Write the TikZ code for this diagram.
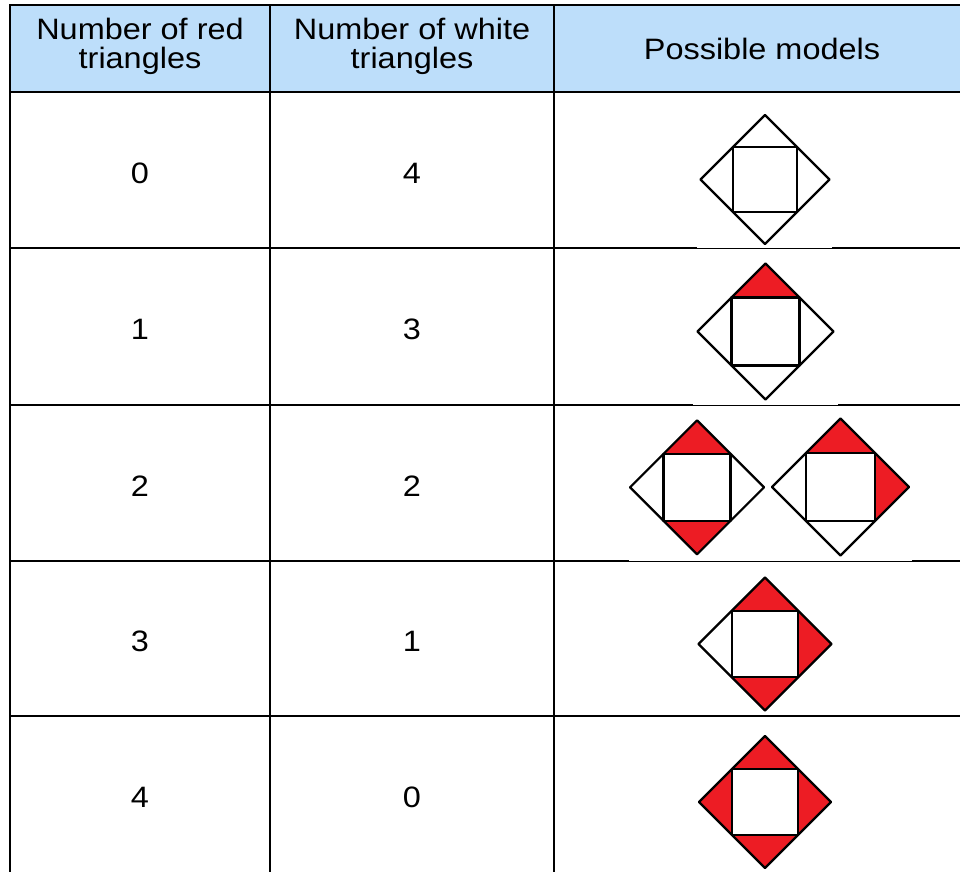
\documentclass[tikz,border=0pt]{standalone}
\usepackage{fontspec}
\setmainfont{Liberation Sans}[FakeStretch=1.1]
\definecolor{hdr}{RGB}{189,222,250}
\definecolor{tri}{RGB}{237,28,36}
% #1 cx, #2 cy, #3 r, #4 top, #5 right, #6 bottom, #7 left fill colours
\newcommand\drawmodel[7]{%
  \fill[#4] (#1,#2-#3) -- (#1-#3/2,#2-#3/2) -- (#1+#3/2,#2-#3/2) -- cycle;
  \fill[#5] (#1+#3,#2) -- (#1+#3/2,#2-#3/2) -- (#1+#3/2,#2+#3/2) -- cycle;
  \fill[#6] (#1,#2+#3) -- (#1-#3/2,#2+#3/2) -- (#1+#3/2,#2+#3/2) -- cycle;
  \fill[#7] (#1-#3,#2) -- (#1-#3/2,#2-#3/2) -- (#1-#3/2,#2+#3/2) -- cycle;
  \draw[modelline] (#1,#2-#3) -- (#1+#3,#2) -- (#1,#2+#3) -- (#1-#3,#2) -- cycle;
  \draw[modelline] (#1-#3/2,#2-#3/2) rectangle (#1+#3/2,#2+#3/2);
}
\begin{document}
\begin{tikzpicture}[x=1pt,y=-1pt,
  txt/.style={inner sep=0pt,align=center,font=\fontsize{29.5}{29.5}\selectfont},
  grid/.style={line width=2.6pt,black},
  thinline/.style={line width=1.3pt,black},
  modelline/.style={line width=2.2pt,black,line join=round}]
\useasboundingbox[fill=white] (0,0) rectangle (960,872);
% header fill
\fill[hdr] (10,5) rectangle (960,92);
\draw[line width=1.4pt] (10,5) -- (960,5);
% horizontal lines
\draw[grid] (9,92) -- (960,92);
\draw[grid] (9,248) -- (697,248);
\draw[grid] (832,248) -- (960,248);
\draw[thinline] (697,248.7) -- (832,248.7);
\draw[grid] (9,405) -- (693,405);
\draw[grid] (838,405) -- (960,405);
\draw[thinline] (693,405.7) -- (838,405.7);
\draw[grid] (9,561) -- (629,561);
\draw[grid] (912,561) -- (960,561);
\draw[thinline] (629,561.7) -- (912,561.7);
\draw[grid] (9,716) -- (960,716);
% vertical lines
\draw[grid] (10,4.5) -- (10,872);
\draw[grid] (270,4.5) -- (270,872);
\draw[grid] (554,4.5) -- (554,872);
% header texts
\node[txt] (h1) at (140,46.5) {Number of red\\triangles};
\node[txt] (h2) at (412,46.5) {Number of white\\triangles};
\node[txt] (h3) at (762,49) {Possible models};
% row texts
\node[txt] (r1a) at (140,173) {0};
\node[txt] (r1b) at (412,173) {4};
\node[txt] (r2a) at (140,329.5) {1};
\node[txt] (r2b) at (412,329.5) {3};
\node[txt] (r3a) at (140,486) {2};
\node[txt] (r3b) at (412,486) {2};
\node[txt] (r4a) at (140,641.5) {3};
\node[txt] (r4b) at (412,641.5) {1};
\node[txt] (r5a) at (140,797) {4};
\node[txt] (r5b) at (412,797) {0};
% models
\drawmodel{765}{179.5}{64.5}{white}{white}{white}{white}
\drawmodel{765.5}{331.5}{68}{tri}{white}{white}{white}
\drawmodel{697}{487.3}{67}{tri}{white}{tri}{white}
\drawmodel{840.5}{487}{68.5}{tri}{tri}{white}{white}
\drawmodel{765}{644}{66.5}{tri}{tri}{tri}{white}
\drawmodel{765}{802}{66}{tri}{tri}{tri}{tri}
\end{tikzpicture}
\end{document}
